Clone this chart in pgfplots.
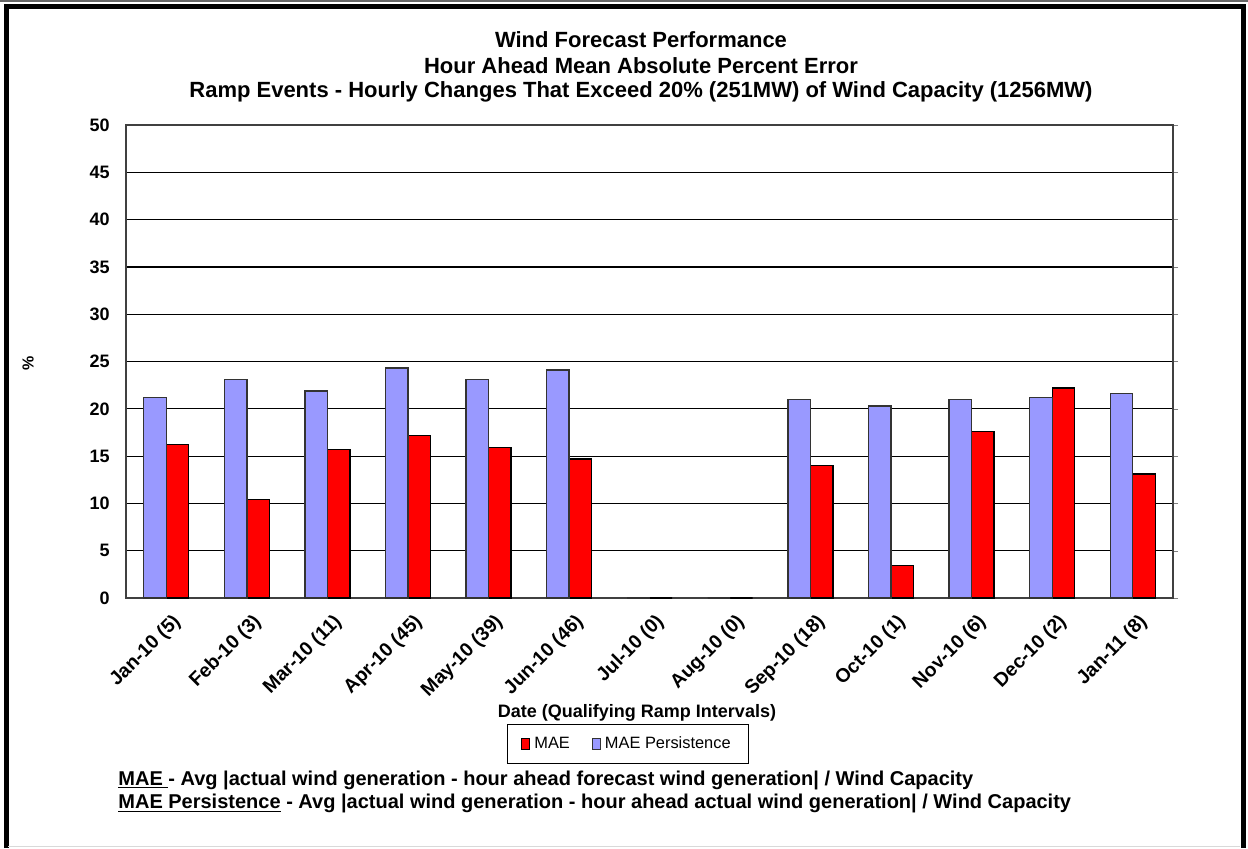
\documentclass[border=0pt]{standalone}
\usepackage{pgfplots}
\pgfplotsset{compat=1.18}
\usepackage{fontspec}
\setmainfont{Liberation Sans}
\definecolor{maered}{HTML}{FF0000}
\definecolor{persblue}{HTML}{9999FF}
\begin{document}
\begin{tikzpicture}[font=\bfseries]
% canvas 1248x848 px, 1 px = 0.5 pt
\fill[white] (0,0) rectangle (624pt,424pt);
\path[use as bounding box] (0,0) rectangle (624pt,424pt);

\node[font=\bfseries\fontsize{11}{12}\selectfont] at (320.5pt,404pt) {Wind Forecast Performance};
\node[font=\bfseries\fontsize{11}{12}\selectfont] at (320.5pt,391pt) {Hour Ahead Mean Absolute Percent Error};
\node[font=\bfseries\fontsize{11}{12}\selectfont] at (320.5pt,378pt) {Ramp Events - Hourly Changes That Exceed 20\% (251MW) of Wind Capacity (1256MW)};

\begin{axis}[
  at={(63pt,125pt)}, anchor=south west,
  scale only axis, width=523.5pt, height=236.5pt,
  xmin=-0.5, xmax=12.5, ymin=0, ymax=50,
  ytick={0,5,...,50},
  ymajorgrids, grid style={black, line width=0.6pt},
  axis line style={black!75, line width=0.6pt},
  ytick pos=right, yticklabel pos=left,
  tick align=outside,
  major tick length=2.5pt,
  xtick={0,...,12},
  x tick style={draw=none},
  minor xtick={-0.5,0.5,...,12.5},
  minor tick length=3pt,
  minor x tick style={black, line width=0.6pt},
  xtick pos=bottom,
  xticklabels={Jan-10 (5),Feb-10 (3),Mar-10 (11),Apr-10 (45),May-10 (39),Jun-10 (46),Jul-10 (0),Aug-10 (0),Sep-10 (18),Oct-10 (1),Nov-10 (6),Dec-10 (2),Jan-11 (8)},
  xticklabel style={font=\bfseries\fontsize{9.7}{11}\selectfont, rotate=45, anchor=north east, inner sep=0pt, xshift=-1.5pt, yshift=-5pt},
  yticklabel style={font=\bfseries\fontsize{9}{10}\selectfont, inner sep=0pt, xshift=-5.5pt},
  /pgf/number format/assume math mode=true,
  ybar, bar width=11.25pt,
  legend style={at={(0.4795,-0.3087)}, anchor=center, draw=black, line width=0.7pt,
    font=\mdseries\fontsize{8.2}{9}\selectfont, legend columns=2,
    /tikz/every even column/.append style={column sep=9pt},
    inner xsep=7pt, inner ysep=4pt},
  legend image code/.code={\draw[#1, line width=0.5pt] (0pt,-2.6pt) rectangle (4pt,2.6pt);},
  clip=false,
]
\addplot[fill=maered, draw=black, line width=0.7pt, bar shift=5.625pt] coordinates {
  (0,16.2) (1,10.4) (2,15.7) (3,17.2) (4,15.9) (5,14.7) (6,0) (7,0)
  (8,14.0) (9,3.45) (10,17.6) (11,22.2) (12,13.1)
};
\addlegendentry{MAE}
\addplot[fill=persblue, draw=black!80, line width=0.7pt, bar shift=-5.625pt] coordinates {
  (0,21.2) (1,23.1) (2,21.9) (3,24.3) (4,23.1) (5,24.1) (6,0) (7,0)
  (8,21.0) (9,20.3) (10,21.0) (11,21.2) (12,21.6)
};
\addlegendentry{MAE Persistence}
\end{axis}

\node[rotate=90, font=\bfseries\fontsize{8}{9}\selectfont] at (14pt,242.5pt) {\%};
\node[font=\bfseries\fontsize{9}{10}\selectfont] at (318.5pt,67.5pt) {Date (Qualifying Ramp Intervals)};
\node[anchor=west, inner sep=0pt, font=\bfseries\fontsize{10}{11}\selectfont] at (59pt,34pt)
  {\underline{MAE }- Avg |actual wind generation - hour ahead forecast wind generation| / Wind Capacity};
\node[anchor=west, inner sep=0pt, font=\bfseries\fontsize{10}{11}\selectfont] at (59pt,22.5pt)
  {\underline{MAE Persistence} - Avg |actual wind generation - hour ahead actual wind generation| / Wind Capacity};

% outer frame
\draw[black!60, line width=0.6pt] (0,423.5pt) -- (624pt,423.5pt);
\draw[black, line width=2.5pt] (3.2pt,0) -- (3.2pt,420.5pt) -- (621.8pt,420.5pt) -- (621.8pt,0);
\draw[black!15, line width=0.5pt] (4pt,1pt) -- (620pt,1pt);
\end{tikzpicture}
\end{document}
